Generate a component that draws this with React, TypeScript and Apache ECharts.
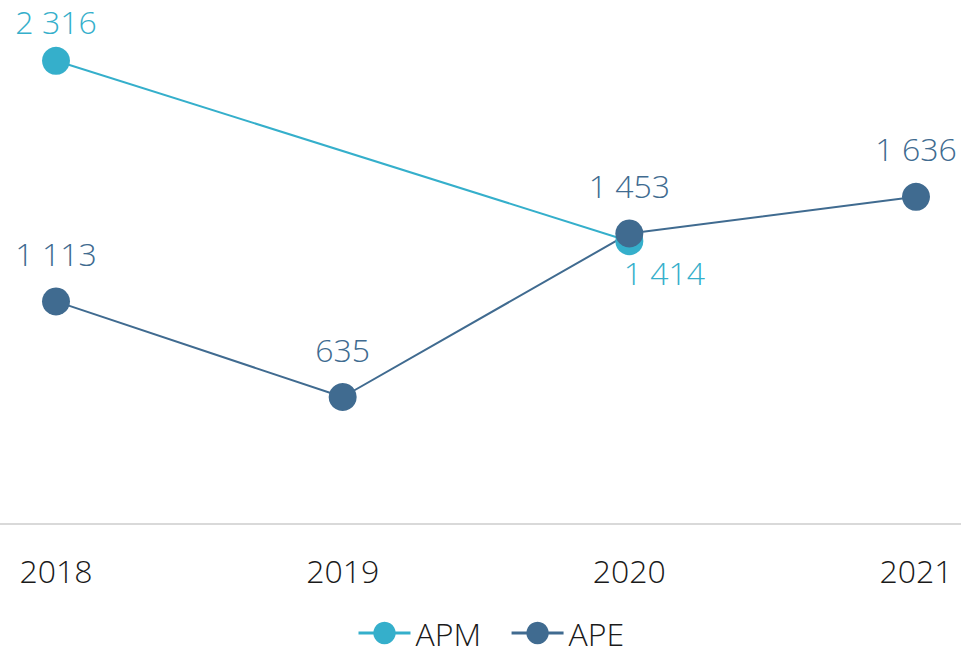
import React, { useEffect, useRef } from "react";
import * as echarts from "echarts";

const categories = ["2018", "2019", "2020", "2021"];
const apmValues: (number | null)[] = [2316, null, 1414, null];
const apeValues: (number | null)[] = [1113, 635, 1453, 1636];

const FONT = "'Open Sans', 'Noto Sans', sans-serif";
const WEIGHT = 300;
const APM_COLOR = "#35AFCB";
const APE_COLOR = "#406B90";

const fmt = (v: number) => String(v).replace(/\B(?=(\d{3})+(?!\d))/g, " ");

export default function App() {
  const ref = useRef<HTMLDivElement>(null);
  useEffect(() => {
    if (!ref.current) return;
    const chart = echarts.init(ref.current, undefined, { renderer: "svg" });
    chart.setOption({
      animation: false,
      grid: { left: 56, right: 45, top: 24, bottom: 131, containLabel: false },
      xAxis: {
        type: "category",
        data: categories,
        boundaryGap: false,
        axisLine: { show: false },
        axisTick: { show: false },
        axisLabel: { color: "#1a1a1a", fontSize: 32, fontWeight: WEIGHT, fontFamily: FONT, margin: 30 },
      },
      yAxis: { type: "value", min: 0, max: 2500, show: false, splitLine: { show: false } },
      legend: {
        left: 357,
        top: 617,
        padding: 0,
        itemWidth: 52,
        itemHeight: 28,
        itemGap: 29,
        lineStyle: { width: 3 },
        textStyle: {
          fontSize: 32,
          lineHeight: 32,
          fontWeight: WEIGHT,
          fontFamily: FONT,
          color: "#1a1a1a",
          padding: [0, 0, 0, 0],
        },
        data: ["APM", "APE"],
      },
      graphic: [
        {
          type: "line",
          shape: { x1: 0, y1: 524, x2: 961, y2: 524 },
          style: { stroke: "#d9d9d9", lineWidth: 2 },
        },
      ],
      series: [
        {
          name: "APM",
          type: "line",
          data: apmValues.map((v, i) =>
            v == null
              ? null
              : i === 2
              ? { value: v, label: { position: "bottom", distance: 1, offset: [35, 0] } }
              : { value: v }
          ),
          connectNulls: true,
          color: APM_COLOR,
          symbol: "circle",
          symbolSize: 28,
          lineStyle: { width: 2, color: APM_COLOR },
          itemStyle: { color: APM_COLOR },
          label: {
            show: true,
            position: "top",
            distance: 9,
            fontSize: 32,
            fontWeight: WEIGHT,
            fontFamily: FONT,
            color: APM_COLOR,
            formatter: (p: any) => fmt(p.value),
          },
        },
        {
          name: "APE",
          type: "line",
          data: apeValues,
          color: APE_COLOR,
          symbol: "circle",
          symbolSize: 28,
          lineStyle: { width: 2, color: APE_COLOR },
          itemStyle: { color: APE_COLOR },
          label: {
            show: true,
            position: "top",
            distance: 18,
            fontSize: 32,
            fontWeight: WEIGHT,
            fontFamily: FONT,
            color: APE_COLOR,
            formatter: (p: any) => fmt(p.value),
          },
        },
      ],
    });
    return () => chart.dispose();
  }, []);
  return <div ref={ref} style={{ width: 961, height: 655, position: "absolute", left: 0, top: 0 }} />;
}
